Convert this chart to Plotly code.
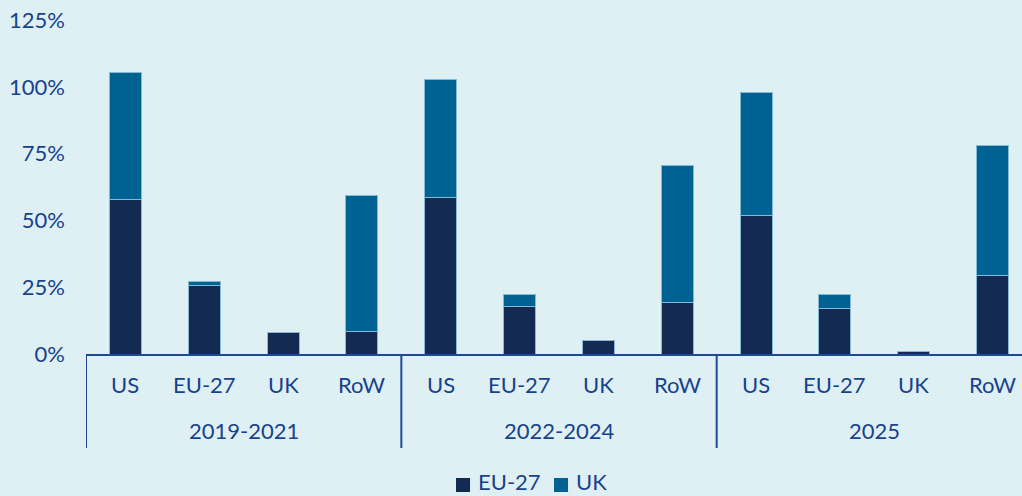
import plotly.graph_objects as go

periods = ["2019-2021"] * 4 + ["2022-2024"] * 4 + ["2025"] * 4
regions = ["US", "EU-27", "UK", "RoW"] * 3
group_names = ["2019-2021", "2022-2024", "2025"]
eu27 = [57.7, 25.5, 7.9, 8.6, 58.4, 17.6, 4.9, 19.1, 51.9, 17.1, 1.1, 29.3]
uk = [47.5, 1.8, 0.0, 50.9, 44.2, 4.5, 0.0, 51.3, 46.1, 5.2, 0.0, 48.8]
y_ticks = [0, 25, 50, 75, 100, 125]

BG = "#dff0f5"
TXT = "#17428c"
AX = "#1d4a94"
NAVY = "#132a52"
BLUE = "#006293"
FONT = "Lato"

fig = go.Figure()
fig.add_trace(go.Bar(x=[periods, regions], y=eu27, name="EU-27", showlegend=False,
                     marker=dict(color=NAVY, line=dict(color="#86b9d3", width=1))))
fig.add_trace(go.Bar(x=[periods, regions], y=uk, name="UK", showlegend=False,
                     marker=dict(color=BLUE, line=dict(color="#86b9d3", width=1))))

annotations = []
# region labels (first level)
for i, r in enumerate(regions):
    annotations.append(dict(x=i, xref="x", y=-0.09, yref="paper", text=r, showarrow=False,
                            xanchor="center", yanchor="middle",
                            font=dict(family=FONT, size=22, color=TXT)))
# group labels (second level)
for g, name in enumerate(group_names):
    annotations.append(dict(x=g * 4 + 1.5, xref="x", y=-0.2305, yref="paper", text=name,
                            showarrow=False, xanchor="center", yanchor="middle",
                            font=dict(family=FONT, size=22, color=TXT)))

shapes = []
for g in range(len(group_names)):
    shapes.append(dict(type="line", xref="x", yref="paper", x0=g * 4 - 0.5, x1=g * 4 - 0.5,
                       y0=0, y1=-0.2814, line=dict(color=AX, width=2)))

# custom legend
legend_items = [("EU-27", NAVY, 0.3953), ("UK", BLUE, 0.5)]
for name, col, x0 in legend_items:
    shapes.append(dict(type="rect", xref="paper", yref="paper", x0=x0, x1=x0 + 0.0150,
                       y0=-0.3713, y1=-0.4132, fillcolor=col, line=dict(width=0)))
    annotations.append(dict(x=x0 + 0.0214, xref="paper", y=-0.383, yref="paper", text=name,
                            showarrow=False, xanchor="left", yanchor="middle",
                            font=dict(family=FONT, size=22, color=TXT)))

fig.update_layout(
    barmode="stack",
    bargap=0.594,
    width=1022, height=496,
    paper_bgcolor=BG, plot_bgcolor=BG,
    margin=dict(l=86, r=0, t=20, b=142),
    font=dict(family=FONT, size=22, color=TXT),
    showlegend=False,
    annotations=annotations,
    shapes=shapes,
)
fig.update_yaxes(range=[0, 125], tickvals=y_ticks, ticktext=[f"{v}%" for v in y_ticks],
                 showgrid=False, zeroline=False, showline=False, ticks="",
                 ticklabelstandoff=20,
                 tickfont=dict(family=FONT, size=22, color=TXT))
fig.update_xaxes(range=[-0.5, 11.373], showline=True, linecolor=AX, linewidth=2,
                 showgrid=False, showdividers=False, showticklabels=False, ticks="")

fig.write_html("out.html", config={"displayModeBar": False},
               post_script="document.body.style.margin='0';")
